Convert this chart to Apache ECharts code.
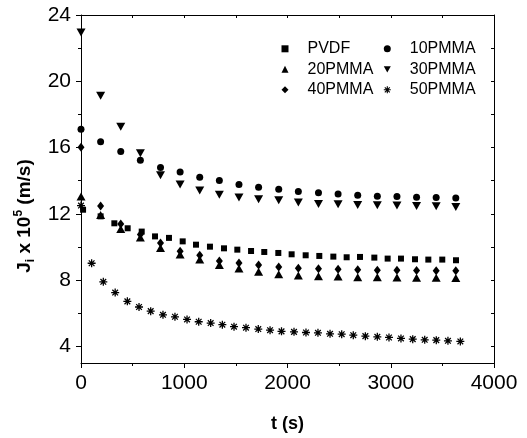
<!DOCTYPE html>
<html><head><meta charset="utf-8">
<script src="https://cdn.jsdelivr.net/npm/echarts@6/dist/echarts.min.js"></script>
<style>html,body{margin:0;padding:0;background:#fff}#c{width:527px;height:438px}</style>
</head><body><div id="c"></div>
<script>
// time axis (s) shared by 10PMMA, 20PMMA, 30PMMA, 40PMMA
const timeA = [0, 190, 385, 575, 770, 960, 1150, 1340, 1530, 1720, 1915, 2105, 2300, 2490, 2680, 2870, 3060, 3250, 3440, 3630];
const pmma10 = [17.1, 16.35, 15.76, 15.24, 14.8, 14.53, 14.21, 14.01, 13.77, 13.6, 13.49, 13.35, 13.28, 13.2, 13.12, 13.06, 13.04, 13.0, 12.98, 12.96];
const pmma30 = [22.95, 19.13, 17.25, 15.66, 14.33, 13.77, 13.41, 13.16, 12.98, 12.88, 12.82, 12.68, 12.6, 12.58, 12.54, 12.52, 12.5, 12.48, 12.46, 12.42];
const pmma20 = [13.04, 11.93, 11.09, 10.58, 9.94, 9.54, 9.24, 8.91, 8.7, 8.51, 8.35, 8.28, 8.24, 8.22, 8.18, 8.17, 8.16, 8.15, 8.14, 8.13];
const pmma40 = [16.02, 12.48, 11.39, 10.76, 10.24, 9.74, 9.5, 9.16, 9.04, 8.92, 8.8, 8.72, 8.68, 8.65, 8.62, 8.6, 8.6, 8.58, 8.57, 8.57];
// PVDF
const timeP = [20, 190, 323, 452, 588, 717, 852, 985, 1114, 1249, 1385, 1514, 1647, 1775, 1911, 2040, 2176, 2308, 2444, 2573, 2702, 2841, 2970, 3099, 3235, 3364, 3499, 3632];
const pvdf = [12.25, 11.85, 11.43, 11.13, 10.93, 10.64, 10.55, 10.34, 10.14, 10.02, 9.92, 9.84, 9.76, 9.7, 9.64, 9.56, 9.5, 9.46, 9.42, 9.38, 9.4, 9.36, 9.3, 9.3, 9.26, 9.24, 9.24, 9.2];
// 50PMMA
const time50 = [0, 103, 216, 331, 449, 562, 675, 794, 910, 1027, 1140, 1256, 1369, 1482, 1598, 1717, 1831, 1942, 2063, 2179, 2295, 2412, 2525, 2637, 2754, 2870, 2983, 3099, 3213, 3329, 3441, 3554, 3674];
const pmma50 = [12.5, 9.02, 7.9, 7.25, 6.72, 6.38, 6.13, 5.91, 5.79, 5.63, 5.49, 5.41, 5.31, 5.19, 5.13, 5.05, 4.98, 4.91, 4.88, 4.84, 4.82, 4.76, 4.74, 4.68, 4.62, 4.58, 4.54, 4.48, 4.44, 4.40, 4.38, 4.34, 4.30];

const seriesNames = ['PVDF', '10PMMA', '20PMMA', '30PMMA', '40PMMA', '50PMMA'];
const yMajor = [4, 8, 12, 16, 20, 24];
const yMinor = [6, 10, 14, 18, 22];
const yRight = [4, 6, 8, 10, 12, 14, 16, 18, 20, 22, 24];

const FONT = 'Liberation Sans, Arial, sans-serif';
const TRI_DOWN = 'path://M0,0L10,0L5,9Z';
const STAR = 'path://M4.2,0H5.8V10H4.2Z M0,4.2H10V5.8H0Z M0.9,2.0L2.0,0.9L9.1,8.0L8.0,9.1Z M8.0,0.9L9.1,2.0L2.0,9.1L0.9,8.0Z';

function zip(t, v) { return t.map((x, i) => [x, v[i]]); }
const black = '#000';
const line = { show: true, lineStyle: { color: black, width: 1 } };

const mk = (name, t, v, symbol, size) => ({
  name, type: 'scatter', data: zip(t, v), symbol, symbolSize: size,
  itemStyle: { color: black, opacity: 1 }, xAxisIndex: 0, yAxisIndex: 0, silent: true
});

const legendBase = {
  orient: 'vertical', padding: 0, itemWidth: 7, itemHeight: 7, itemGap: 4.5,
  selectedMode: false, top: 40.8,
  itemStyle: { color: black, opacity: 1 },
  textStyle: { fontFamily: FONT, fontSize: 16, color: black, lineHeight: 16, padding: [0, 0, 0, 14] }
};

const option = {
  animation: false,
  backgroundColor: '#fff',
  grid: { left: 81, right: 33, top: 15, bottom: 71, containLabel: false },
  legend: [
    Object.assign({}, legendBase, { left: 281.5, data: [
      { name: 'PVDF', icon: 'rect' }, { name: '20PMMA', icon: 'triangle' }, { name: '40PMMA', icon: 'diamond' }] }),
    Object.assign({}, legendBase, { left: 383.8, data: [
      { name: '10PMMA', icon: 'circle' }, { name: '30PMMA', icon: TRI_DOWN }, { name: '50PMMA', icon: STAR }] })
  ],
  xAxis: [
    {
      type: 'value', position: 'bottom', min: 0, max: 4000, interval: 1000,
      axisLine: line, splitLine: { show: false },
      axisTick: { show: true, inside: false, length: 5, lineStyle: { color: black } },
      minorTick: { show: true, splitNumber: 2, length: 3, lineStyle: { color: black } },
      axisLabel: { fontFamily: FONT, fontSize: 21, color: black, margin: 10, formatter: v => String(v) },
      name: 't (s)', nameLocation: 'middle', nameGap: 52,
      nameTextStyle: { fontFamily: FONT, fontSize: 18, fontWeight: 'bold', color: black }
    },
    {
      type: 'value', position: 'top', min: 0, max: 4000, interval: 500,
      axisLine: line, splitLine: { show: false },
      axisTick: { show: true, inside: true, length: 3, lineStyle: { color: black } },
      axisLabel: { show: false }
    }
  ],
  yAxis: [
    {
      type: 'value', position: 'left', min: 3, max: 24,
      axisLine: line, splitLine: { show: false },
      axisTick: { show: true, inside: false, length: 5, customValues: yMajor, lineStyle: { color: black } },
      axisLabel: { fontFamily: FONT, fontSize: 21, color: black, margin: 10, customValues: yMajor, formatter: v => String(v) },
      name: '{b|J}{sub|i}{b| x 10}{sup|5}{b| (m/s)}', nameLocation: 'middle', nameRotate: 90, nameGap: 39,
      nameTextStyle: {
        fontFamily: FONT, fontSize: 19, fontWeight: 'bold', color: black, padding: [0, 54, 0, 0],
        rich: {
          b: { fontFamily: FONT, fontSize: 19, fontWeight: 'bold', color: black, lineHeight: 24 },
          sub: { fontFamily: FONT, fontSize: 12, fontWeight: 'bold', color: black, lineHeight: 12, verticalAlign: 'bottom' },
          sup: { fontFamily: FONT, fontSize: 12, fontWeight: 'bold', color: black, lineHeight: 12, verticalAlign: 'top' }
        }
      }
    },
    {
      type: 'value', position: 'left', min: 3, max: 24,
      axisLine: { show: false }, splitLine: { show: false },
      axisTick: { show: true, inside: false, length: 3, customValues: yMinor, lineStyle: { color: black } },
      axisLabel: { show: false }
    },
    {
      type: 'value', position: 'right', min: 3, max: 24,
      axisLine: line, splitLine: { show: false },
      axisTick: { show: true, inside: true, length: 3, customValues: yRight, lineStyle: { color: black } },
      axisLabel: { show: false }
    }
  ],
  series: [
    mk(seriesNames[0], timeP, pvdf, 'rect', 6),
    mk(seriesNames[1], timeA, pmma10, 'circle', 7),
    mk(seriesNames[2], timeA, pmma20, 'triangle', [9, 8]),
    mk(seriesNames[3], timeA, pmma30, TRI_DOWN, [9, 8]),
    mk(seriesNames[4], timeA, pmma40, 'diamond', [7, 9]),
    mk(seriesNames[5], time50, pmma50, STAR, 8)
  ]
};

const chart = echarts.init(document.getElementById('c'), null, { renderer: 'canvas' });
chart.setOption(option);
</script>
</body></html>
